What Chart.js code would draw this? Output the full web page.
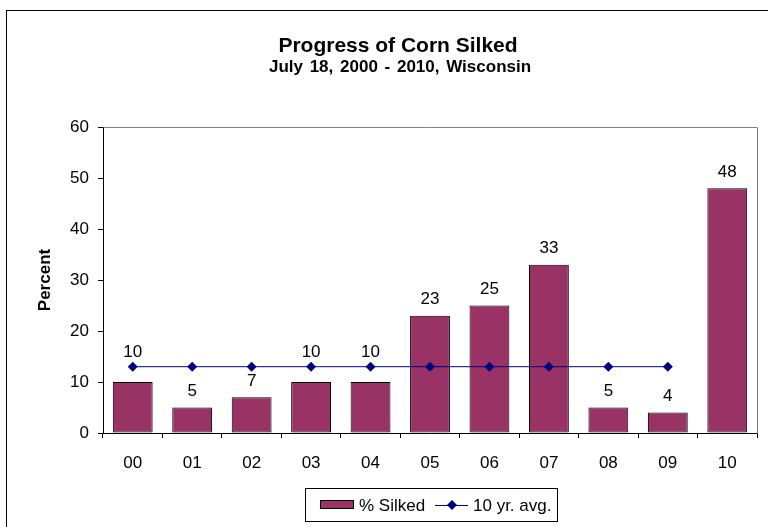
<!DOCTYPE html>
<html>
<head>
<meta charset="utf-8">
<script src="https://cdn.jsdelivr.net/npm/chart.js@4/dist/chart.umd.min.js"></script>
<style>
  html, body { margin: 0; padding: 0; background: #fff; }
  #wrap { width: 768px; height: 527px; position: relative; }
</style>
</head>
<body>
<div id="wrap"><canvas id="c" width="768" height="527"></canvas></div>
<script>
const categories = ['00','01','02','03','04','05','06','07','08','09','10'];
const silked = [10, 5, 7, 10, 10, 23, 25, 33, 5, 4, 48];
const tenYearAvg = [13, 13, 13, 13, 13, 13, 13, 13, 13, 13, null];
const yTicks = [0, 10, 20, 30, 40, 50, 60];
const titleText = 'Progress of Corn Silked';
const subtitleText = 'July 18, 2000 - 2010, Wisconsin';
const seriesNames = ['% Silked', '10 yr. avg.'];

const FONT = "'Liberation Sans', Arial, sans-serif";
const BAR_COLOR = '#993366';
const LINE_COLOR = '#000080';

const decorPlugin = {
  id: 'decor',
  beforeDraw(chart) {
    const ctx = chart.ctx;
    ctx.save();
    ctx.fillStyle = '#fff';
    ctx.fillRect(0, 0, chart.width, chart.height);
    ctx.strokeStyle = '#000';
    ctx.lineWidth = 1;
    ctx.strokeRect(6.5, 10.5, 900, 700);
    ctx.restore();
  },
  beforeDatasetsDraw(chart) {
    const ctx = chart.ctx, a = chart.chartArea;
    ctx.save();
    ctx.strokeStyle = '#808080';
    ctx.lineWidth = 1;
    ctx.beginPath();
    ctx.moveTo(Math.round(a.left) + 0.5, Math.round(a.top) + 0.5);
    ctx.lineTo(Math.round(a.right) + 0.5, Math.round(a.top) + 0.5);
    ctx.lineTo(Math.round(a.right) + 0.5, Math.round(a.bottom) + 0.5);
    ctx.stroke();
    ctx.restore();
  },
  afterDatasetsDraw(chart) {
    const ctx = chart.ctx;
    const barMeta = chart.getDatasetMeta(0);
    const lineMeta = chart.getDatasetMeta(1);
    ctx.save();
    ctx.font = '17px ' + FONT;
    ctx.fillStyle = '#000';
    ctx.textAlign = 'center';
    ctx.textBaseline = 'middle';
    barMeta.data.forEach((el, i) => {
      let y = el.y - 16;
      const lp = lineMeta.data[i];
      if (lp && tenYearAvg[i] !== null && Math.abs(y - lp.y) < 12) {
        y = lp.y - 14;
      }
      ctx.fillText(String(silked[i]), el.x, y);
    });
    ctx.restore();
  },
  afterDraw(chart) {
    const ctx = chart.ctx;
    ctx.save();
    ctx.fillStyle = '#000';
    ctx.textAlign = 'center';
    ctx.textBaseline = 'alphabetic';
    ctx.font = 'bold 21px ' + FONT;
    ctx.fillText(titleText, 398, 52);
    ctx.font = 'bold 17px ' + FONT;
    if ('wordSpacing' in ctx) ctx.wordSpacing = '2px';
    ctx.fillText(subtitleText, 400, 72);
    if ('wordSpacing' in ctx) ctx.wordSpacing = '0px';

    // legend
    const lx = 305.5, ly = 488.5, lw = 252, lh = 33;
    ctx.strokeStyle = '#000';
    ctx.lineWidth = 1;
    ctx.strokeRect(lx, ly, lw, lh);
    const cy = 505;
    ctx.fillStyle = BAR_COLOR;
    ctx.fillRect(320, 500, 34, 9);
    ctx.strokeRect(320.5, 500.5, 33, 8);
    ctx.fillStyle = '#000';
    ctx.font = '17px ' + FONT;
    ctx.textAlign = 'left';
    ctx.textBaseline = 'middle';
    ctx.fillText(seriesNames[0], 359, cy + 1);
    ctx.strokeStyle = LINE_COLOR;
    ctx.beginPath();
    ctx.moveTo(435, cy + 0.5);
    ctx.lineTo(468, cy + 0.5);
    ctx.stroke();
    ctx.fillStyle = LINE_COLOR;
    ctx.beginPath();
    ctx.moveTo(452, cy - 5);
    ctx.lineTo(457, cy);
    ctx.lineTo(452, cy + 5);
    ctx.lineTo(447, cy);
    ctx.closePath();
    ctx.fill();
    ctx.fillStyle = '#000';
    ctx.fillText(seriesNames[1], 473, cy + 1);
    ctx.restore();
  }
};

new Chart(document.getElementById('c'), {
  data: {
    labels: categories,
    datasets: [
      {
        type: 'bar',
        label: seriesNames[0],
        data: silked,
        backgroundColor: BAR_COLOR,
        borderColor: '#000',
        borderWidth: 1,
        borderSkipped: false,
        barPercentage: 0.67,
        categoryPercentage: 1.0,
        order: 2
      },
      {
        type: 'line',
        label: seriesNames[1],
        data: tenYearAvg,
        borderColor: LINE_COLOR,
        backgroundColor: LINE_COLOR,
        borderWidth: 1,
        pointStyle: 'rectRot',
        pointRadius: 5,
        pointBorderWidth: 0,
        fill: false,
        tension: 0,
        order: 1
      }
    ]
  },
  options: {
    responsive: false,
    devicePixelRatio: 1,
    animation: false,
    layout: { padding: { top: 127, right: 11, left: 0, bottom: 0 } },
    plugins: {
      legend: { display: false },
      title: { display: false },
      tooltip: { enabled: false }
    },
    scales: {
      x: {
        type: 'category',
        offset: true,
        grid: { display: true, offset: true, drawOnChartArea: false, drawTicks: true, tickLength: 5, color: '#000' },
        border: { display: true, color: '#000', width: 1 },
        ticks: { color: '#000', font: { family: FONT, size: 17 }, padding: 15, maxRotation: 0, autoSkip: false },
        afterFit(scale) { scale.height = 94; }
      },
      y: {
        min: 0,
        max: 60,
        afterBuildTicks(scale) { scale.ticks = yTicks.map(v => ({ value: v })); },
        grid: { display: true, drawOnChartArea: false, drawTicks: true, tickLength: 5, color: '#000' },
        border: { display: true, color: '#000', width: 1 },
        ticks: { color: '#000', font: { family: FONT, size: 17 }, padding: 9 },
        title: { display: true, text: 'Percent', color: '#000', font: { family: FONT, size: 17, weight: 'bold' }, padding: { top: 35, bottom: 0 } },
        afterFit(scale) { scale.width = 103; }
      }
    }
  },
  plugins: [decorPlugin]
});
</script>
</body>
</html>
